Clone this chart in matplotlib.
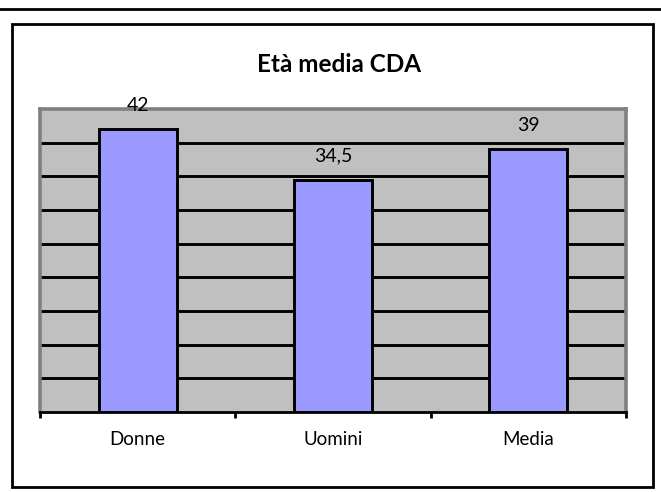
import matplotlib
matplotlib.use("Agg")
import matplotlib.pyplot as plt
from matplotlib.patches import Rectangle
from matplotlib.lines import Line2D

categories = ["Donne", "Uomini", "Media"]
values = [42, 34.5, 39]
value_labels = ["42", "34,5", "39"]

plt.rcParams['font.family'] = ['Lato', 'DejaVu Sans']

W, H = 661, 492
fig = plt.figure(figsize=(W / 100, H / 100), dpi=100)

# outer frame and the line above it
fig.add_artist(Line2D([0, 1], [1 - 9 / H, 1 - 9 / H], transform=fig.transFigure,
                      color="black", lw=2))
fig.add_artist(Rectangle((12 / W, 1 - 487 / H), (653 - 12) / W, (487 - 23.5) / H,
                         transform=fig.transFigure, fill=False,
                         edgecolor="black", lw=2))

ax = fig.add_axes([40 / W, 1 - 412 / H, (626 - 40) / W, (412 - 109) / H])
ax.set_facecolor("#C0C0C0")

x = range(len(categories))
ax.bar(x, values, width=0.4, color="#9999FF", edgecolor="black", linewidth=2.1, zorder=3)

ax.set_xlim(-0.5, 2.5)
ax.set_ylim(0, 45)
ax.set_yticks(range(5, 45, 5))
ax.yaxis.grid(True, color="black", linewidth=2.1)
ax.set_axisbelow(True)
ax.tick_params(axis="y", left=False, labelleft=False)

ax.set_xticks([-0.5, 0.5, 1.5, 2.5])
ax.set_xticklabels([])
ax.set_xticks(list(x), minor=True)
ax.set_xticklabels(categories, minor=True, fontsize=13.5)
ax.tick_params(axis="x", which="major", direction="out", length=4.5, width=2, color="black")
ax.tick_params(axis="x", which="minor", length=0, pad=14)

for side in ["left", "top", "right"]:
    ax.spines[side].set_color("#808080")
    ax.spines[side].set_linewidth(2.6)
ax.spines["bottom"].set_color("black")
ax.spines["bottom"].set_linewidth(2)

for xi, v, lab in zip(x, values, value_labels):
    ax.annotate(lab, (xi, v), xytext=(0, 17), textcoords="offset points",
                ha="center", va="center", fontsize=14, zorder=5, annotation_clip=False)

fig.text(339 / W, 1 - 65 / H, "Età media CDA", ha="center", va="center",
         fontsize=17.5, fontweight="bold")

fig.savefig("out.png", dpi=100)
